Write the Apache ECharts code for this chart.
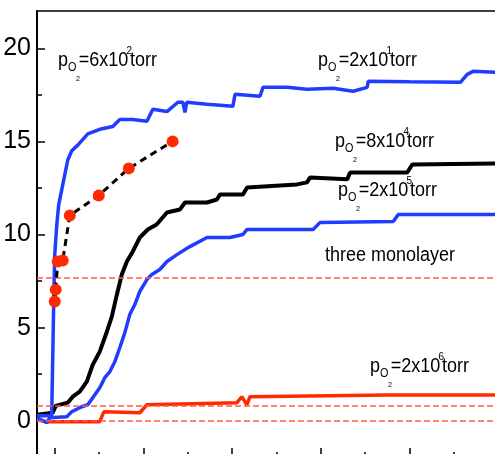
<!DOCTYPE html>
<html>
<head>
<meta charset="utf-8">
<script src="https://cdn.jsdelivr.net/npm/echarts@6/dist/echarts.min.js"></script>
<style>
  html, body { margin: 0; padding: 0; background: #fff; }
  #chart { width: 495px; height: 454px; }
</style>
</head>
<body>
<div id="chart"></div>
<script>
// axis ticks
const xTicks = [0, 100, 200, 300, 400]
const xMinorTicks = [50, 150, 250, 350, 450]
const yTicks = [0, 5, 10, 15, 20]
const yMinorTicks = [2.5, 7.5, 12.5, 17.5]

// curves, [x, y]
const blueFast = [
  [-20, 0.27], [-3.4, 0.27], [-2.3, 0.3], [-1.1, 6.5], [0, 8.9], [2.3, 10.5],
  [4.5, 11.6], [7.9, 12.4], [11.3, 13.2], [14.7, 14.0], [19.2, 14.5], [26, 14.8],
  [37.3, 15.4], [50.8, 15.65], [65.5, 15.8], [73.4, 16.18], [88, 16.18], [104, 16.08],
  [110.7, 16.72], [126.6, 16.6], [139, 17.1], [144.6, 17.1], [146.9, 16.56], [149, 17.1],
  [171.8, 16.99], [201, 16.88], [203.4, 17.53], [231.6, 17.42], [235, 17.9], [262, 17.9],
  [284.7, 17.8], [314, 17.85], [336.7, 17.69], [352.5, 17.9], [353.7, 18.23], [400, 18.2],
  [457.6, 18.17], [465.5, 18.6], [472, 18.76], [499, 18.71]
]
const blackCurve = [
  [-20, 0.32], [-2.3, 0.43], [1.1, 0.8], [14.7, 0.97], [20.3, 1.29], [28.2, 1.56],
  [36.2, 2.1], [42.9, 3.01], [50.8, 3.71], [58.8, 4.78], [64.4, 5.59], [70.1, 6.77],
  [75.7, 7.85], [81.4, 8.55], [88.1, 9.09], [96, 9.84], [105, 10.27], [115, 10.54],
  [126.6, 11.18], [141.2, 11.34], [146.9, 11.72], [171.8, 11.72], [183, 11.88], [186.4, 12.15],
  [212.4, 12.15], [217, 12.53], [273.4, 12.69], [284.7, 12.8], [288, 13.06], [330, 12.96],
  [333.3, 13.33], [397.7, 13.33], [403.4, 13.76], [499, 13.82]
]
const blueSlow = [
  [-20, 0.16], [-9, -0.11], [-5.6, 0.16], [13.6, 0.22], [19.2, 0.48], [30.5, 0.75],
  [37.3, 0.86], [42.9, 1.24], [50.8, 1.77], [56.5, 2.31], [62.1, 2.63], [67.8, 3.17],
  [73.4, 3.92], [79.1, 4.73], [84.7, 5.7], [90.4, 6.24], [96, 6.94], [104, 7.58],
  [109.6, 7.85], [118.6, 8.12], [126.6, 8.55], [137.9, 8.92], [152.5, 9.35], [171.8, 9.84],
  [197.7, 9.84], [212.4, 10.0], [217, 10.27], [291.5, 10.27], [299.4, 10.65], [382, 10.7],
  [387.6, 11.08], [499, 11.08]
]
const redCurve = [
  [-20, 0.05], [-9, -0.05], [50.8, -0.05], [55.4, 0.48], [96, 0.43], [104, 0.86],
  [205.6, 0.97], [211, 1.29], [216.9, 0.86], [220.3, 1.29], [375, 1.38], [499, 1.38]
]
const redDots = [
  [0, 6.4], [1.1, 7.04], [3.4, 8.55], [9, 8.6], [17, 11.02],
  [49.7, 12.1], [83.6, 13.55], [133, 15.0]
]
const monolayerLines = [7.7, 0.8, 0]

const BLUE = '#1f3cff'
const RED = '#ff2a00'
const NARROW = "'Liberation Sans Narrow', 'Arial Narrow', 'Liberation Sans', Arial, sans-serif"
const FONT = "'Liberation Sans', Arial, sans-serif"

// p_O2 = m x 10^e torr, drawn as a small group of texts
function pressureLabel(x, y, mant, exp) {
  const t = (text, dx, dy, size) => ({
    type: 'text', x: dx, y: dy,
    style: { text, fontSize: size, fontFamily: FONT, fill: '#000', verticalAlign: 'middle' }
  })
  return {
    type: 'group', x, y, scaleX: 0.9,
    children: [
      t('p', 0, -7, 20),
      t('O', 11, 1, 12),
      t('2', 20, 12, 8),
      t('=' + mant + 'x10', 23, -7, 20),
      t(exp, 76, -16, 11),
      t('torr', 80, -7, 20)
    ]
  }
}

const chart = echarts.init(document.getElementById('chart'))

const tickAxis = (ticks, len, extra) => Object.assign({
  type: 'value',
  axisLine: { show: false, onZero: false },
  axisTick: { show: true, inside: true, length: len, customValues: ticks, lineStyle: { color: '#000', width: 1.5 } },
  axisLabel: { show: false },
  splitLine: { show: false }
}, extra)

chart.setOption({
  animation: false,
  grid: {
    left: 37, top: 11, right: -2, bottom: -4,
    outerBoundsMode: 'none',
    show: true, borderColor: '#000', borderWidth: 1.5
  },
  xAxis: [
    tickAxis(xTicks, 10, { min: -20, max: 499, position: 'bottom',
      axisLine: { show: true, onZero: false, lineStyle: { color: '#000', width: 2 } } }),
    tickAxis(xMinorTicks, 6, { min: -20, max: 499, position: 'bottom' })
  ],
  yAxis: [
    tickAxis(yTicks, 8, { min: -2, max: 22, position: 'left',
      axisLine: { show: true, onZero: false, lineStyle: { color: '#000', width: 2 } },
      axisLabel: { show: true, customValues: yTicks, fontSize: 25, fontFamily: NARROW, color: '#000', margin: 6 } }),
    tickAxis(yMinorTicks, 5, { min: -2, max: 22, position: 'left' })
  ],
  series: [
    {
      type: 'line', data: redCurve, showSymbol: false,
      lineStyle: { color: RED, width: 3.5 },
      markLine: {
        silent: true, symbol: 'none', label: { show: false },
        lineStyle: { color: '#ff5a48', width: 1.5, type: [6, 3] },
        data: monolayerLines.map(v => ({ yAxis: v }))
      }
    },
    { type: 'line', data: blueSlow, showSymbol: false, lineStyle: { color: BLUE, width: 3.5 } },
    { type: 'line', data: blackCurve, showSymbol: false, lineStyle: { color: '#000', width: 4 } },
    { type: 'line', data: blueFast, showSymbol: false, lineStyle: { color: BLUE, width: 3.5 } },
    {
      type: 'line', data: redDots, symbol: 'circle', symbolSize: 12, showSymbol: true,
      lineStyle: { color: '#000', width: 3, type: [7, 5] },
      itemStyle: { color: RED, borderWidth: 0 }, z: 5
    }
  ],
  graphic: [
    pressureLabel(58, 67, '6', '2'),
    pressureLabel(318, 67, '2', '1'),
    pressureLabel(335, 148, '8', '4'),
    pressureLabel(338, 197, '2', '5'),
    pressureLabel(370, 373, '2', '6'),
    {
      type: 'text', x: 325, y: 255, scaleX: 0.9,
      style: { text: 'three monolayer', fontSize: 20, fontFamily: FONT, fill: '#000', verticalAlign: 'middle' }
    }
  ]
})
</script>
</body>
</html>
